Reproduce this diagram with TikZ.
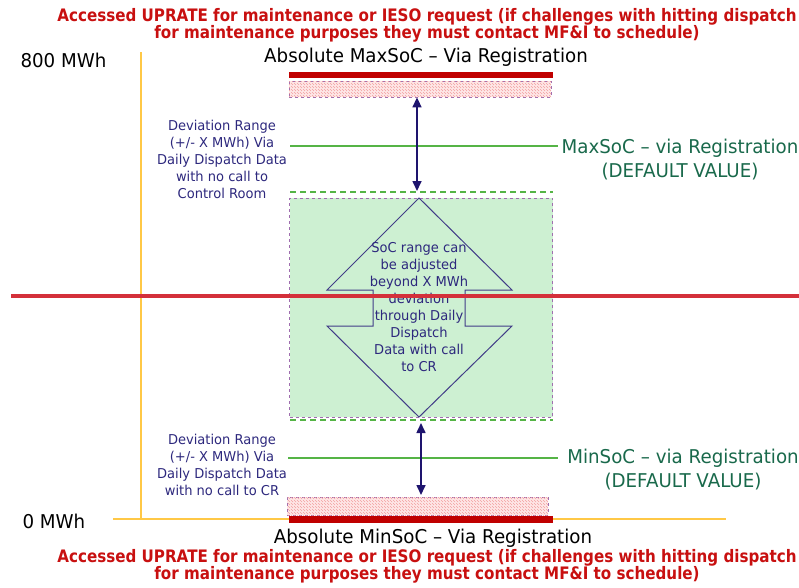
\documentclass[tikz,border=0pt]{standalone}
\usepackage{fontspec}
\setmainfont{DejaVu Sans}[FakeStretch=0.96]
\newfontfamily\headfont{DejaVu Sans}[FakeStretch=0.88]
\usetikzlibrary{arrows.meta,patterns}

\definecolor{headred}{RGB}{200,16,16}
\definecolor{barred}{RGB}{192,0,0}
\definecolor{cutred}{RGB}{212,48,58}
\definecolor{navytext}{RGB}{45,40,125}
\definecolor{navyarrow}{RGB}{30,20,110}
\definecolor{shapeline}{RGB}{65,60,135}
\definecolor{greentext}{RGB}{25,105,75}
\definecolor{greenline}{RGB}{85,180,70}
\definecolor{boxfill}{RGB}{205,240,210}
\definecolor{purpledash}{RGB}{160,110,175}
\definecolor{hatchfill}{RGB}{255,232,232}
\definecolor{hatchline}{RGB}{242,160,160}
\definecolor{axisyellow}{RGB}{255,200,70}

\tikzset{
  headtext/.style={text=headred, align=center, font=\headfont\bfseries\fontsize{17.2}{17.5}\selectfont},
  bigtext/.style={text=black, font=\fontsize{19}{20}\selectfont},
  soclabel/.style={text=greentext, align=center, font=\fontsize{19}{24}\selectfont},
  devtext/.style={text=navytext, align=center, font=\fontsize{13.6}{17}\selectfont},
  redbar/.style={fill=barred, draw=none},
  hatchbox/.style={draw=purpledash, dashed, line width=0.8pt, fill=hatchfill,
                   postaction={pattern=north west lines, pattern color=hatchline}},
  socline/.style={draw=greenline, line width=1.3pt},
  rangearrow/.style={draw=navyarrow, line width=1.6pt,
                     {Triangle[length=10pt,width=9pt]}-{Triangle[length=10pt,width=9pt]}},
  axis/.style={draw=axisyellow, line width=2pt},
}

\begin{document}
\begin{tikzpicture}[x=1pt,y=-1pt]
\useasboundingbox (0,0) rectangle (799,587);

% axes
\coordinate (axtop) at (141,52);
\coordinate (axcorner) at (141,519);
\coordinate (axleft) at (113,519);
\coordinate (axright) at (726,519);
\draw[axis] (axtop) -- (axcorner);
\draw[axis] (axleft) -- (axright);

% scale labels
\node[bigtext, anchor=west] (top800) at (17,60) {800 MWh};
\node[bigtext, anchor=west] (bot0) at (19,521) {0 MWh};

% headline notes
\node[headtext] (toptitle) at (427,25.5) {Accessed UPRATE for maintenance or IESO request (if challenges with hitting dispatch\\for maintenance purposes they must contact MF\&I to schedule)};
\node[headtext] (bottitle) at (427,566.5) {Accessed UPRATE for maintenance or IESO request (if challenges with hitting dispatch\\for maintenance purposes they must contact MF\&I to schedule)};

% absolute limits
\node[bigtext] (absmax) at (426,57) {Absolute MaxSoC – Via Registration};
\node[bigtext] (absmin) at (433,538) {Absolute MinSoC – Via Registration};

\path[redbar] (289,72) rectangle (553,78);
\node[hatchbox, minimum width=262pt, minimum height=16pt, inner sep=0pt] (maxhatch) at (420,89) {};

\node[hatchbox, minimum width=261pt, minimum height=18pt, inner sep=0pt] (minhatch) at (417.5,506) {};
\path[redbar] (289,516) rectangle (553,523);

% adjustable band
\node[draw=purpledash, dashed, line width=0.8pt, fill=boxfill, minimum width=263pt, minimum height=219pt, inner sep=0pt] (band) at (421,307.5) {};
\coordinate (bandtopl) at (290,192);
\coordinate (bandtopr) at (553,192);
\coordinate (bandbotl) at (290,420);
\coordinate (bandbotr) at (553,420);
\draw[draw=greenline, dashed, dash pattern=on 6pt off 4pt, line width=1.3pt] (bandtopl) -- (bandtopr);
\draw[draw=greenline, dashed, dash pattern=on 6pt off 4pt, line width=1.3pt] (bandbotl) -- (bandbotr);

% double arrow shape
\draw[shapeline, line width=1pt, fill=boxfill]
  (419,198) -- (512,290) -- (465,290) -- (465,326) -- (512,326) -- (419,417)
  -- (327,326) -- (373,326) -- (373,290) -- (327,290) -- cycle;
\node[devtext] (adjtext) at (419,307) {SoC range can\\be adjusted\\beyond X MWh\\deviation\\through Daily\\Dispatch\\Data with call\\to CR};

% default value lines
\coordinate (maxl) at (290,146);
\coordinate (maxr) at (558,146);
\coordinate (minl) at (288,458);
\coordinate (minr) at (558,458);
\draw[socline] (maxl) -- (maxr);
\draw[socline] (minl) -- (minr);
\node[soclabel] (maxlab) at (680,160) {MaxSoC – via Registration\\(DEFAULT VALUE)};
\node[soclabel] (minlab) at (683,470) {MinSoC – via Registration\\(DEFAULT VALUE)};

% deviation ranges
\coordinate (uparrowend) at (417,191);
\coordinate (lowarrowstart) at (421,423);
\coordinate (lowarrowend) at (421,495);
\draw[rangearrow] (maxhatch.south -| uparrowend) -- (uparrowend);
\draw[rangearrow] (lowarrowstart) -- (lowarrowend);
\node[devtext] (devtop) at (222,159) {Deviation Range\\(+/- X MWh) Via\\Daily Dispatch Data\\with no call to\\Control Room};
\node[devtext] (devbot) at (222,464.5) {Deviation Range\\(+/- X MWh) Via\\Daily Dispatch Data\\with no call to CR};

% marker line across the chart
\coordinate (cutl) at (11,296);
\coordinate (cutr) at (799,296);
\draw[draw=cutred, line width=3.5pt] (cutl) -- (cutr);
\end{tikzpicture}
\end{document}
